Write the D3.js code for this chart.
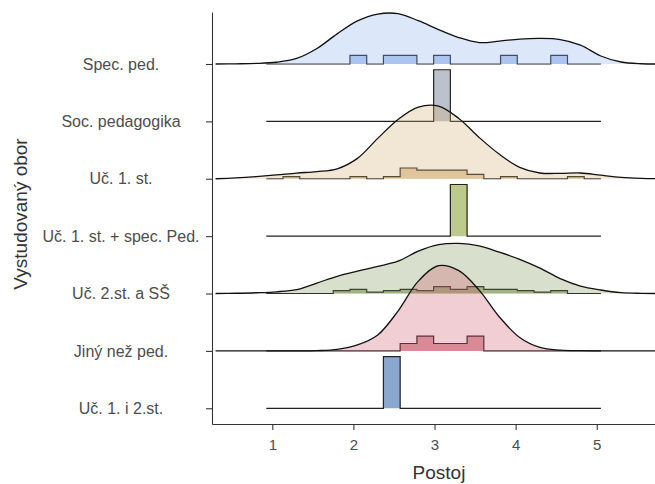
<!DOCTYPE html>
<html lang="cs">
<head>
<meta charset="UTF-8">
<title>Postoj podle vystudovaného oboru</title>
<script src="https://d3js.org/d3.v7.min.js"></script>
<style>
  body { margin: 0; background: #fff; }
  svg { display: block; font-family: "Liberation Sans", Arial, sans-serif; }
  .axis path, .axis line { stroke: #333; stroke-width: 1.07; }
  .axis text { fill: #4d4d4d; font-size: 15px; }
  .yaxis text { font-size: 16px; }
  .title { fill: #333; font-size: 19px; }
</style>
</head>
<body>
<svg id="chart" width="655" height="484"></svg>
<script>
// groups from bottom row to top row
const groups = ["Uč. 1. i 2.st.", "Jiný než ped.", "Uč. 2.st. a SŠ", "Uč. 1. st. + spec. Ped.",
                "Uč. 1. st.", "Soc. pedagogika", "Spec. ped."];
const colors = ["#3c6eb1", "#cd5c6e", "#7d9455", "#8fa83c", "#d4af73", "#8f99aa", "#8cafeb"];
const xTicks = [1, 2, 3, 4, 5];

// histogram of Postoj: 20 bins, counts per group (same order as groups)
const binStart = 0.926, binWidth = 0.2063;
const countsUc12   = [0,0,0,0,0,0,0,1,0,0,0,0,0,0,0,0,0,0,0,0];
const countsJiny   = [0,0,0,0,0,0,0,0,1,2,1,1,2,0,0,0,0,0,0,0];
const countsUc2SS  = [0,0,0,0,2,3,1,2,3,2,5,3,5,3,3,2,1,2,0,0];
const countsUc1Sp  = [0,0,0,0,0,0,0,0,0,0,0,1,0,0,0,0,0,0,0,0];
const countsUc1    = [0,1,0,0,0,1,0,1,5,4,4,4,2,0,1,0,0,0,1,0];
const countsSocPed = [0,0,0,0,0,0,0,0,0,0,1,0,0,0,0,0,0,0,0,0];
const countsSpec   = [0,0,0,0,0,1,0,1,1,0,1,0,0,0,1,0,0,1,0,0];
const counts = [countsUc12, countsJiny, countsUc2SS, countsUc1Sp, countsUc1, countsSocPed, countsSpec];

// density ridges (relative height, 1 = highest ridge), read at these x values
const densityX     = [0.3,0.55,0.8,1.05,1.3,1.55,1.8,2.05,2.3,2.55,2.8,3.05,3.3,3.55,3.8,4.05,4.3,4.55,4.8,5.05,5.3,5.55,5.8];
const densJiny     = [0,0,0,0,0,.003,.017,.069,.185,.463,.81,.99,.932,.706,.394,.156,.04,.009,.002,0,0,0,0];
const densUc2SS    = [0,.003,.009,.020,.046,.122,.2,.26,.315,.376,.492,.567,.582,.553,.48,.397,.295,.174,.087,.041,.01,.002,0];
const densUc1      = [0,.01,.025,.044,.066,.083,.116,.237,.469,.689,.833,.845,.70,.48,.284,.133,.067,.063,.067,.041,.017,.005,0];
const densSpec     = [0,.002,.006,.02,.064,.18,.35,.50,.58,.585,.503,.40,.307,.249,.266,.289,.297,.284,.22,.093,.023,.003,0];
const densities = [null, densJiny, densUc2SS, null, densUc1, null, densSpec];

const svg = d3.select("#chart");

const x = d3.scaleLinear().domain([0.2565, 5.854]).range([212, 666]);
const y = d3.scaleLinear().domain([-0.274, 6.906]).range([424, 12]);
const step = y(0) - y(1);
const histH = d3.scaleLinear().domain([0, 1]).range([0, 0.9 * step]);  // share of group in a bin
const densH = d3.scaleLinear().domain([0, 1]).range([0, 1.5 * step]);
const smooth = d3.curveCatmullRom.alpha(0.5);

svg.append("clipPath").attr("id", "panel")
  .append("rect").attr("x", 212).attr("y", 8).attr("width", 454).attr("height", 416);

const plot = svg.append("g").attr("clip-path", "url(#panel)");

// draw rows from the top one down so lower ridges sit on top
const order = d3.range(groups.length).reverse();

// histogram layer
order.forEach(i => {
  const c = counts[i];
  const n = d3.sum(c);
  const base = y(i);
  const pts = [[binStart, 0]];
  c.forEach((v, k) => pts.push([binStart + k * binWidth, v / n]));
  pts.push([binStart + c.length * binWidth, c[c.length - 1] / n]);
  pts.push([binStart + c.length * binWidth, 0]);

  plot.append("path")
    .datum(pts)
    .attr("fill", colors[i])
    .attr("fill-opacity", 0.6)
    .attr("d", d3.area().curve(d3.curveStepAfter)
      .x(d => x(d[0])).y0(base).y1(d => base - histH(d[1])));

  plot.append("path")
    .datum(pts)
    .attr("fill", "none")
    .attr("stroke", "#222")
    .attr("stroke-width", 1.2)
    .attr("d", d3.line().curve(d3.curveStepAfter)
      .x(d => x(d[0])).y(d => base - histH(d[1])));
});

// density layer
order.forEach(i => {
  const dens = densities[i];
  if (!dens) return;
  const base = y(i);
  const pts = densityX.map((v, k) => [v, dens[k]]);

  plot.append("path")
    .datum(pts)
    .attr("fill", colors[i])
    .attr("fill-opacity", 0.3)
    .attr("d", d3.area().curve(smooth)
      .x(d => x(d[0])).y0(base).y1(d => base - densH(d[1])));

  plot.append("path")
    .datum(pts)
    .attr("fill", "none")
    .attr("stroke", "#111")
    .attr("stroke-width", 1.3)
    .attr("d", d3.line().curve(smooth)
      .x(d => x(d[0])).y(d => base - densH(d[1])));
});

// axes
svg.append("g").attr("class", "axis")
  .attr("transform", "translate(0,424)")
  .call(d3.axisBottom(x).tickValues(xTicks).tickFormat(d3.format("d"))
    .tickSize(6).tickSizeOuter(0).tickPadding(9));

const yAxis = svg.append("g").attr("class", "axis yaxis")
  .attr("transform", "translate(212,0)")
  .call(d3.axisLeft(y).tickValues(d3.range(groups.length)).tickFormat(i => groups[i])
    .tickSize(6).tickSizeOuter(0));

// category labels are centred in the label column
yAxis.selectAll(".tick text")
  .attr("x", -91)
  .attr("text-anchor", "middle");

svg.append("text").attr("class", "title")
  .attr("x", 439).attr("y", 478.5)
  .attr("text-anchor", "middle")
  .text("Postoj");

svg.append("text").attr("class", "title")
  .attr("transform", "translate(27,214) rotate(-90)")
  .attr("text-anchor", "middle")
  .text("Vystudovaný obor");
</script>
</body>
</html>
